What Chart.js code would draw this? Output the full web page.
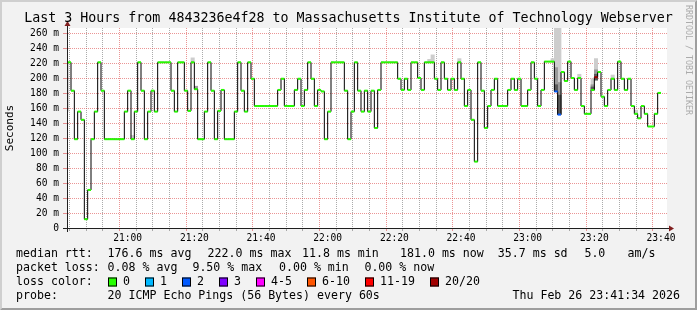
<!DOCTYPE html>
<html>
<head>
<meta charset="utf-8">
<script src="https://cdn.jsdelivr.net/npm/chart.js@4.4.1/dist/chart.umd.min.js"></script>
<style>
  html, body { margin: 0; padding: 0; background: #f2f2f2; }
  #chart { display: block; }
</style>
</head>
<body>
<canvas id="chart" width="697" height="310"></canvas>
<script>
// minutes since midnight; value i covers [firstMinute + i, firstMinute + i + 1]
const firstMinute = 1241;          // 20:41
const viewStart = 1241.8;          // 20:41:48
const viewEnd = 1421.8;            // 23:41:48

const medianRtt = [
  156, 222, 184, 119, 156, 145, 11.8, 51, 119, 156,
  222, 184, 119, 119, 119, 119, 119, 119, 156, 184,
  119, 156, 222, 184, 119, 156, 184, 156, 222, 222,
  222, 222, 184, 156, 222, 222, 184, 157, 222, 186,
  119, 119, 156, 222, 184, 119, 157, 185, 119, 119,
  119, 156, 222, 184, 156, 222, 200, 163.5, 163.5, 163.5,
  163.5, 163.5, 163.5, 163.5, 185, 200, 163.5, 163.5, 163.5, 185,
  200, 163.5, 185, 222, 200, 163.5, 185, 183, 119, 156,
  222, 222, 222, 222, 184, 119, 156, 222, 184, 156,
  184, 156, 184, 134, 185, 222, 222, 222, 222, 222,
  200, 185, 200, 185, 222, 222, 201, 185, 222, 222,
  222, 200, 185, 222, 200, 185, 200, 185, 222, 200,
  163.5, 185, 145, 89, 222, 184, 134, 163.5, 185, 200,
  163.5, 163.5, 163.5, 185, 200, 185, 200, 163.5, 163.5, 185,
  222, 200, 163.5, 185, 223, 223, 223, 183, 152, 209,
  197, 223, 201, 185, 201, 163.5, 153, 153, 185, 202,
  209, 176, 163.5, 185, 200, 185, 223, 200, 185, 200,
  163.5, 153, 147, 163.5, 153, 136, 136, 153, 181
];

// [index, lost pings out of 20]
const lossCounts = [[147, 2], [148, 2], [159, 20]];

// smoke bands [index, low, high]
const smokeLight = [
  [20, 119, 124], [38, 222, 228], [109, 222, 226], [110, 222, 232], [118, 222, 227],
  [146, 223, 227], [147, 183, 270], [148, 152, 270], [154, 201, 206], [158, 185, 200],
  [159, 202, 227], [164, 200, 205], [171, 153, 158]
];
const smokeMid = [[39, 186, 190], [147, 183, 215], [148, 152, 195], [158, 185, 192], [159, 200, 212]];
const smokeDark = [[147, 183, 192], [148, 152, 178], [158, 185, 189], [159, 198, 206]];

const timeLabels = ['21:00', '21:20', '21:40', '22:00', '22:20', '22:40', '23:00', '23:20', '23:40'];
const yTicks = [0, 10, 20, 30, 40, 50, 60, 70, 80, 90, 100, 110, 120, 130, 140, 150, 160, 170, 180, 190, 200, 210, 220, 230, 240, 250, 260];

const rttStats = ['176.6 ms avg', '222.0 ms max', '11.8 ms min', '181.0 ms now', '35.7 ms sd', '5.0', 'am/s'];
const lossStats = ['0.08 % avg', '9.50 % max', '0.00 % min', '0.00 % now'];
const lossLegend = [['0', '#26ff00'], ['1', '#00b8ff'], ['2', '#0059ff'], ['3', '#7e00ff'],
                    ['4-5', '#ff00ff'], ['6-10', '#ff5500'], ['11-19', '#ff0000'], ['20/20', '#a10000']];

const MONO = 'DejaVu Sans Mono';
const GRID = 'rgba(143,143,143,0.75)';
const MGRID = 'rgba(222,79,79,0.6)';

function toMinutes(label) {
    const [h, m] = label.split(':').map(Number);
    return h * 60 + m;
}
const majorMinutes = timeLabels.map(toMinutes);
const gridMinutes = [];
for (let m = Math.ceil(viewStart / 5) * 5; m <= viewEnd; m += 5) gridMinutes.push(m);

function lossColor(n) {
    if (n === 0) return lossLegend[0][1];
    if (n === 1) return lossLegend[1][1];
    if (n === 2) return lossLegend[2][1];
    if (n === 3) return lossLegend[3][1];
    if (n <= 5) return lossLegend[4][1];
    if (n <= 10) return lossLegend[5][1];
    if (n <= 19) return lossLegend[6][1];
    return lossLegend[7][1];
}
const lossByIndex = {};
lossCounts.forEach(([i, n]) => { lossByIndex[i] = n; });

// horizontal pieces of the median, one per step, separated by gaps
const medianPieces = [];
medianRtt.forEach((v, i) => {
    medianPieces.push({x: firstMinute + i, y: v}, {x: firstMinute + i + 1, y: v}, {x: firstMinute + i + 1, y: null});
});
const medianSteps = medianRtt.map((v, i) => ({x: firstMinute + i, y: v}));
medianSteps.push({x: firstMinute + medianRtt.length, y: medianRtt[medianRtt.length - 1]});

const toBars = list => list.map(([i, lo, hi]) => ({x: firstMinute + i + 0.5, y: [lo, hi]}));

const isMajorX = ctx => !!ctx.tick && majorMinutes.includes(ctx.tick.value);
const isMajorY = ctx => !!ctx.tick && ctx.tick.value % 20 === 0;

const rrdPlugin = {
    id: 'rrdFrame',
    beforeDraw(chart) {
        const ctx = chart.ctx, a = chart.chartArea;
        ctx.save();
        ctx.fillStyle = '#f2f2f2';
        ctx.fillRect(0, 0, chart.width, chart.height);
        ctx.fillStyle = '#ffffff';
        ctx.fillRect(a.left, a.top, a.right - a.left, a.bottom - a.top);
        ctx.restore();
    },
    afterDraw(chart) {
        const ctx = chart.ctx, a = chart.chartArea;
        const W = chart.width, H = chart.height;
        ctx.save();
        // 3d border
        ctx.fillStyle = '#cfcfcf';
        ctx.beginPath();
        ctx.moveTo(0, H); ctx.lineTo(2, H - 2); ctx.lineTo(2, 2); ctx.lineTo(W - 2, 2); ctx.lineTo(W, 0); ctx.lineTo(0, 0);
        ctx.closePath(); ctx.fill();
        ctx.fillStyle = '#9e9e9e';
        ctx.beginPath();
        ctx.moveTo(2, H - 2); ctx.lineTo(W - 2, H - 2); ctx.lineTo(W - 2, 2); ctx.lineTo(W, 0); ctx.lineTo(W, H); ctx.lineTo(0, H);
        ctx.closePath(); ctx.fill();

        // axis extensions and arrows
        ctx.strokeStyle = '#1f1f1f';
        ctx.lineWidth = 1;
        ctx.beginPath();
        ctx.moveTo(a.left - 4, a.bottom + 0.5); ctx.lineTo(a.right + 4, a.bottom + 0.5);
        ctx.moveTo(a.left + 0.5, a.bottom + 4); ctx.lineTo(a.left + 0.5, a.top - 4);
        ctx.stroke();
        ctx.fillStyle = '#801f1f';
        ctx.beginPath();
        ctx.moveTo(a.right + 2, a.bottom - 2.5); ctx.lineTo(a.right + 2, a.bottom + 3.5); ctx.lineTo(a.right + 7, a.bottom + 0.5);
        ctx.closePath(); ctx.fill();
        ctx.beginPath();
        ctx.moveTo(a.left - 2.5, a.top - 2); ctx.lineTo(a.left + 3.5, a.top - 2); ctx.lineTo(a.left + 0.5, a.top - 7);
        ctx.closePath(); ctx.fill();

        // title
        ctx.fillStyle = '#000';
        ctx.textBaseline = 'middle';
        ctx.textAlign = 'center';
        ctx.font = '13.3px "' + MONO + '"';
        ctx.fillText('Last 3 Hours from 4843236e4f28 to Massachusetts Institute of Technology Webserver', W / 2, 19);

        // watermark
        ctx.save();
        ctx.translate(W - 9, 5);
        ctx.rotate(Math.PI / 2);
        ctx.font = '8.3px "' + MONO + '"';
        ctx.textAlign = 'left';
        ctx.fillStyle = '#ababab';
        ctx.fillText('RRDTOOL / TOBI OETIKER', 0, 0);
        ctx.restore();

        // legend
        ctx.font = '11.6px "' + MONO + '"';
        ctx.textAlign = 'left';
        ctx.fillStyle = '#000';
        const rows = [254, 268, 282, 296];
        ctx.fillText('median rtt:', 16, rows[0]);
        const rttX = [107.6, 207.6, 302, 400, 497.8, 584.4, 627.6];
        rttStats.forEach((t, i) => ctx.fillText(t, rttX[i], rows[0]));
        ctx.fillText('packet loss:', 16, rows[1]);
        const lossX = [107.6, 192.4, 279, 364.4];
        lossStats.forEach((t, i) => ctx.fillText(t, lossX[i], rows[1]));
        ctx.fillText('loss color:', 16, rows[2]);
        const boxX = [108, 145, 182, 219, 256, 307, 365, 430];
        lossLegend.forEach(([t, c], i) => {
            ctx.fillStyle = c;
            ctx.fillRect(boxX[i], rows[2] - 4.5, 9, 9);
            ctx.strokeStyle = '#000';
            ctx.strokeRect(boxX[i] + 0.5, rows[2] - 4, 8, 8);
            ctx.fillStyle = '#000';
            ctx.fillText(t, boxX[i] + 15, rows[2]);
        });
        ctx.fillText('probe:', 16, rows[3]);
        ctx.fillText('20 ICMP Echo Pings (56 Bytes) every 60s', 107.6, rows[3]);
        ctx.textAlign = 'right';
        ctx.fillText('Thu Feb 26 23:41:34 2026', 680, rows[3]);
        ctx.restore();
    }
};

new Chart(document.getElementById('chart').getContext('2d'), {
    type: 'line',
    data: {
        datasets: [
            {
                type: 'line',
                data: medianPieces,
                borderWidth: 2,
                borderCapStyle: 'butt',
                pointRadius: 0,
                spanGaps: false,
                clip: 0,
                order: 1,
                segment: {
                    borderColor: ctx => lossColor(lossByIndex[Math.floor(ctx.p0DataIndex / 3)] || 0)
                }
            },
            {
                type: 'line',
                data: medianSteps,
                stepped: 'before',
                borderColor: '#000000',
                borderWidth: 1,
                pointRadius: 0,
                clip: 0,
                order: 2
            },
            {
                type: 'bar', data: toBars(smokeDark), backgroundColor: '#5a5a5a',
                barThickness: 3.4, grouped: false, borderWidth: 0, order: 3
            },
            {
                type: 'bar', data: toBars(smokeMid), backgroundColor: '#9a9a9a',
                barThickness: 3.4, grouped: false, borderWidth: 0, order: 4
            },
            {
                type: 'bar', data: toBars(smokeLight), backgroundColor: '#cdcdcd',
                barThickness: 3.4, grouped: false, borderWidth: 0, order: 5
            }
        ]
    },
    options: {
        responsive: false,
        animation: false,
        events: [],
        layout: { padding: { top: 28, right: 30, bottom: 0, left: 0 } },
        plugins: {
            legend: { display: false },
            tooltip: { enabled: false }
        },
        scales: {
            x: {
                type: 'linear',
                min: viewStart,
                max: viewEnd,
                offset: false,
                afterBuildTicks: scale => { scale.ticks = gridMinutes.map(v => ({value: v})); },
                afterFit: scale => { scale.height = 82; },
                ticks: {
                    autoSkip: false,
                    maxRotation: 0,
                    minRotation: 0,
                    padding: 2,
                    color: '#000',
                    font: { family: MONO, size: 9.6 },
                    callback: value => {
                        const i = majorMinutes.indexOf(value);
                        return i >= 0 ? timeLabels[i] : '';
                    }
                },
                grid: {
                    color: ctx => isMajorX(ctx) ? MGRID : GRID,
                    tickColor: ctx => isMajorX(ctx) ? MGRID : GRID,
                    tickLength: 3,
                    lineWidth: 1
                },
                border: { color: '#1f1f1f', width: 1, dash: [1, 1] }
            },
            y: {
                type: 'linear',
                min: 0,
                max: 268,
                afterBuildTicks: scale => { scale.ticks = yTicks.map(v => ({value: v})); },
                afterFit: scale => { scale.width = 67; },
                ticks: {
                    padding: 4,
                    color: '#000',
                    font: { family: MONO, size: 9.6 },
                    callback: value => value % 20 === 0 ? (value === 0 ? '0' : value + ' m') : ''
                },
                grid: {
                    color: ctx => isMajorY(ctx) ? MGRID : GRID,
                    tickColor: ctx => isMajorY(ctx) ? MGRID : GRID,
                    tickLength: 4,
                    lineWidth: 1
                },
                border: { color: '#1f1f1f', width: 1, dash: [1, 1] },
                title: {
                    display: true,
                    text: 'Seconds',
                    color: '#000',
                    font: { family: MONO, size: 11 },
                    padding: { top: 4, bottom: 0 }
                }
            }
        }
    },
    plugins: [rrdPlugin]
});
</script>
</body>
</html>
